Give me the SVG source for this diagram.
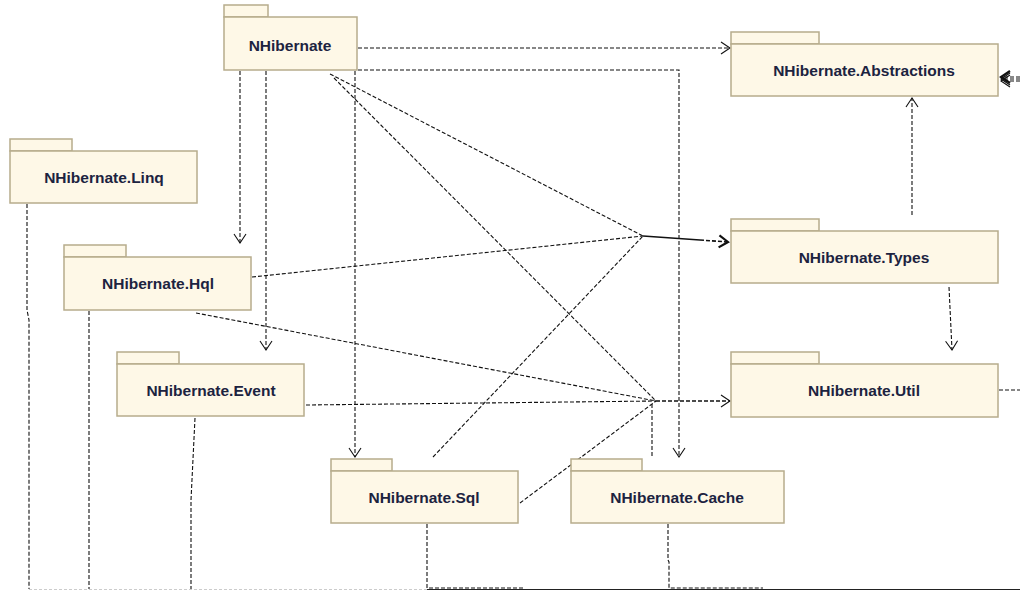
<svg xmlns="http://www.w3.org/2000/svg" width="1020" height="590" viewBox="0 0 1020 590">
<style>
.pk rect{fill:#FEF8E7;stroke:#B7AC8C;stroke-width:1.5}
.pk text{font-family:"Liberation Sans",Arial,sans-serif;font-weight:bold;font-size:15.5px;fill:#1C2340;text-anchor:middle;dominant-baseline:central}
.c{fill:none;stroke:#111;stroke-width:1.1;stroke-dasharray:4,2}
.a{marker-end:url(#arr)}
.s{fill:none;stroke:#111;stroke-width:1.6}
</style>
<defs>
<marker id="arr" markerUnits="userSpaceOnUse" markerWidth="12" markerHeight="16" refX="10" refY="7" orient="auto">
<path d="M1,1 L10,7 L1,13" fill="none" stroke="#111" stroke-width="1.1"/>
</marker>
<marker id="arrb" markerUnits="userSpaceOnUse" markerWidth="12" markerHeight="16" refX="10" refY="7" orient="auto">
<path d="M1,1 L10,7 L1,13" fill="none" stroke="#111" stroke-width="2.2"/>
</marker>
</defs>
<rect width="1020" height="590" fill="#fff"/>
<g id="connectors">
<path class="c a" d="M358,48 H730"/>
<path class="c a" d="M358,70 H679 V457"/>
<path class="c a" d="M240,71 V243"/>
<path class="c a" d="M266,71 V350"/>
<path class="c a" d="M355,71 V457"/>
<path class="c" d="M330,74 L643,236"/>
<path class="c" d="M334,78 L656,401"/>
<path class="c" d="M252,277 L643,236"/>
<path class="c" d="M433,457 L643,236"/>
<path class="s" d="M643,236 L700,240" />
<path class="c" d="M700,240 L728,242" style="stroke-width:1.6;marker-end:url(#arrb)"/>
<path class="c" d="M196,313 L656,401"/>
<path class="c" d="M306,405 L656,401"/>
<path class="c" d="M520,503 L656,401"/>
<path class="c" d="M652,456 V402"/>
<path class="c a" d="M656,401 L730,401" style="stroke-width:1.4"/>
<path class="c a" d="M949,287 L952,350"/>
<path class="c a" d="M912,215 V98"/>
<path class="c" d="M999,390 H1020"/>
<path class="c" d="M1020,77 H1001" style="marker-end:url(#arrb)"/>
<path class="c" d="M1020,79 H1001" style="marker-end:url(#arr)"/>
<path class="c" d="M1020,81 H1001" style="marker-end:url(#arr)"/>
<path class="c" d="M27,204 V310 L29,320 V589"/>
<path class="c" d="M89,311 V589"/>
<path class="c" d="M195,418 L191,500 V589"/>
<path class="c" d="M427,524 V588 H525"/>
<path class="c" d="M668,524 V560 L669,562 V588 H763"/>
<path d="M29,589.5 H427" fill="none" stroke="#ccc" stroke-width="1" stroke-dasharray="3,2"/>
<path d="M427,589.5 H1020" fill="none" stroke="#222" stroke-width="1"/>
</g>
<g id="n-nhibernate" class="pk">
<rect x="224" y="5" width="44" height="12"/>
<rect x="224" y="17" width="133" height="53"/>
<text x="290" y="45">NHibernate</text>
</g>
<g id="n-abstractions" class="pk">
<rect x="731" y="32" width="88" height="12"/>
<rect x="731" y="44" width="267" height="52"/>
<text x="864" y="70">NHibernate.Abstractions</text>
</g>
<g id="n-linq" class="pk">
<rect x="10" y="139" width="62" height="12"/>
<rect x="10" y="151" width="187" height="52"/>
<text x="104" y="177">NHibernate.Linq</text>
</g>
<g id="n-hql" class="pk">
<rect x="64" y="245" width="62" height="12"/>
<rect x="64" y="257" width="187" height="53"/>
<text x="158" y="283">NHibernate.Hql</text>
</g>
<g id="n-event" class="pk">
<rect x="117" y="352" width="62" height="12"/>
<rect x="117" y="364" width="187" height="52"/>
<text x="211" y="390">NHibernate.Event</text>
</g>
<g id="n-types" class="pk">
<rect x="731" y="219" width="88" height="12"/>
<rect x="731" y="231" width="267" height="52"/>
<text x="864" y="257">NHibernate.Types</text>
</g>
<g id="n-util" class="pk">
<rect x="731" y="352" width="88" height="12"/>
<rect x="731" y="364" width="267" height="53"/>
<text x="864" y="390">NHibernate.Util</text>
</g>
<g id="n-sql" class="pk">
<rect x="331" y="459" width="61" height="12"/>
<rect x="331" y="471" width="187" height="52"/>
<text x="424" y="497">NHibernate.Sql</text>
</g>
<g id="n-cache" class="pk">
<rect x="571" y="459" width="71" height="12"/>
<rect x="571" y="471" width="213" height="52"/>
<text x="677" y="497">NHibernate.Cache</text>
</g>
</svg>
